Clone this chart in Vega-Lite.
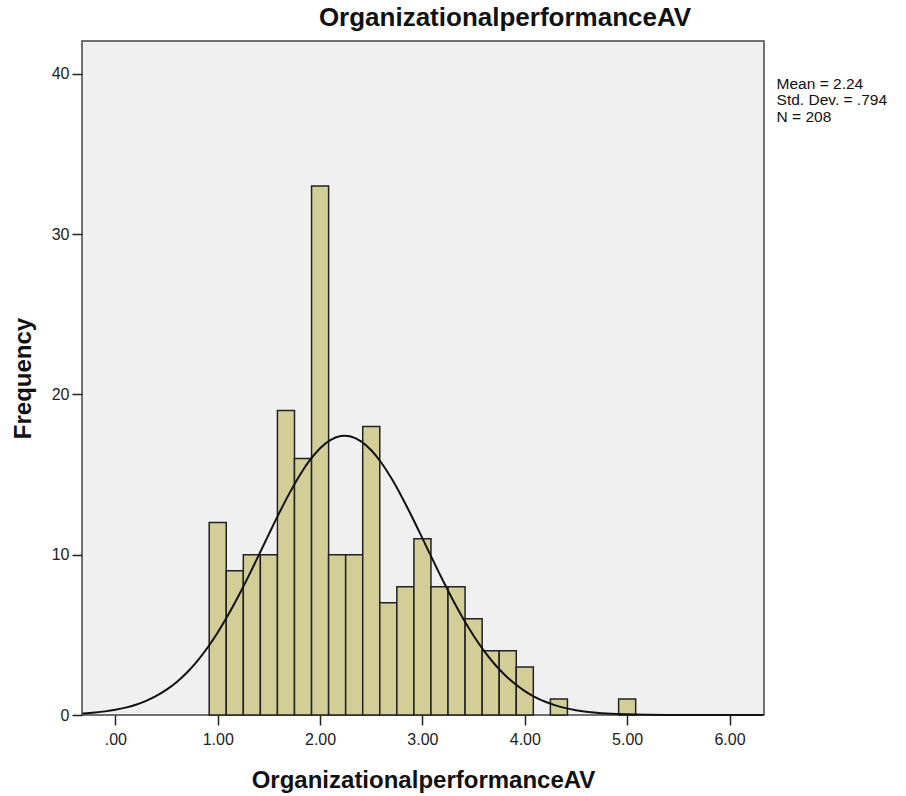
{
  "$schema": "https://vega.github.io/schema/vega-lite/v6.json",
  "width": 682,
  "height": 674,
  "autosize": "none",
  "padding": {"left": 82, "top": 41, "right": 142, "bottom": 81},
  "background": "white",
  "config": {
    "font": "Liberation Sans",
    "view": {"fill": "#F0F0F0", "stroke": "#444444", "strokeWidth": 1.5},
    "axis": {"grid": false, "domain": false, "tickColor": "#222222", "tickWidth": 1.5, "labelColor": "#222222", "labelFont": "Liberation Sans", "labelFontSize": 16, "titleFont": "Liberation Sans", "titleFontWeight": "bold", "titleFontSize": 24, "titleColor": "#111111"}
  },
  "title": {"text": "OrganizationalperformanceAV", "fontSize": 26, "fontWeight": "bold", "font": "Liberation Sans", "color": "#111111", "anchor": "middle", "dx": 82, "offset": 10},
  "datasets": {
    "bins": [
      {"bin_start": 0.9167, "bin_end": 1.0833, "count": 12},
      {"bin_start": 1.0833, "bin_end": 1.25, "count": 9},
      {"bin_start": 1.25, "bin_end": 1.4167, "count": 10},
      {"bin_start": 1.4167, "bin_end": 1.5833, "count": 10},
      {"bin_start": 1.5833, "bin_end": 1.75, "count": 19},
      {"bin_start": 1.75, "bin_end": 1.9167, "count": 16},
      {"bin_start": 1.9167, "bin_end": 2.0833, "count": 33},
      {"bin_start": 2.0833, "bin_end": 2.25, "count": 10},
      {"bin_start": 2.25, "bin_end": 2.4167, "count": 10},
      {"bin_start": 2.4167, "bin_end": 2.5833, "count": 18},
      {"bin_start": 2.5833, "bin_end": 2.75, "count": 7},
      {"bin_start": 2.75, "bin_end": 2.9167, "count": 8},
      {"bin_start": 2.9167, "bin_end": 3.0833, "count": 11},
      {"bin_start": 3.0833, "bin_end": 3.25, "count": 8},
      {"bin_start": 3.25, "bin_end": 3.4167, "count": 8},
      {"bin_start": 3.4167, "bin_end": 3.5833, "count": 6},
      {"bin_start": 3.5833, "bin_end": 3.75, "count": 4},
      {"bin_start": 3.75, "bin_end": 3.9167, "count": 4},
      {"bin_start": 3.9167, "bin_end": 4.0833, "count": 3},
      {"bin_start": 4.25, "bin_end": 4.4167, "count": 1},
      {"bin_start": 4.9167, "bin_end": 5.0833, "count": 1}
    ],
    "curve": [
      {"x": -0.32, "y": 0.096}, {"x": -0.2, "y": 0.155}, {"x": -0.1, "y": 0.226}, {"x": 0.0, "y": 0.326},
      {"x": 0.1, "y": 0.461}, {"x": 0.2, "y": 0.642}, {"x": 0.3, "y": 0.880}, {"x": 0.4, "y": 1.188},
      {"x": 0.5, "y": 1.579}, {"x": 0.6, "y": 2.064}, {"x": 0.7, "y": 2.655}, {"x": 0.8, "y": 3.364},
      {"x": 0.9, "y": 4.193}, {"x": 1.0, "y": 5.145}, {"x": 1.1, "y": 6.215}, {"x": 1.2, "y": 7.387},
      {"x": 1.3, "y": 8.644}, {"x": 1.4, "y": 9.955}, {"x": 1.5, "y": 11.283}, {"x": 1.6, "y": 12.589},
      {"x": 1.7, "y": 13.823}, {"x": 1.8, "y": 14.941}, {"x": 1.9, "y": 15.894}, {"x": 2.0, "y": 16.642},
      {"x": 2.1, "y": 17.151}, {"x": 2.2, "y": 17.398}, {"x": 2.24, "y": 17.42}, {"x": 2.3, "y": 17.370},
      {"x": 2.4, "y": 17.070}, {"x": 2.5, "y": 16.511}, {"x": 2.6, "y": 15.718}, {"x": 2.7, "y": 14.729},
      {"x": 2.8, "y": 13.584}, {"x": 2.9, "y": 12.332}, {"x": 3.0, "y": 11.017}, {"x": 3.1, "y": 9.689},
      {"x": 3.2, "y": 8.387}, {"x": 3.3, "y": 7.146}, {"x": 3.4, "y": 5.992}, {"x": 3.5, "y": 4.946},
      {"x": 3.6, "y": 4.017}, {"x": 3.7, "y": 3.212}, {"x": 3.8, "y": 2.528}, {"x": 3.9, "y": 1.959},
      {"x": 4.0, "y": 1.493}, {"x": 4.1, "y": 1.121}, {"x": 4.2, "y": 0.828}, {"x": 4.3, "y": 0.602},
      {"x": 4.4, "y": 0.430}, {"x": 4.5, "y": 0.303}, {"x": 4.6, "y": 0.210}, {"x": 4.7, "y": 0.143},
      {"x": 4.8, "y": 0.096}, {"x": 4.9, "y": 0.064}, {"x": 5.0, "y": 0.041}, {"x": 5.2, "y": 0.017},
      {"x": 5.5, "y": 0.004}, {"x": 6.0, "y": 0.0002}, {"x": 6.33, "y": 0.0}
    ],
    "stats": [
      {"label": "Mean = 2.24\nStd. Dev. = .794\nN = 208"}
    ]
  },
  "layer": [
    {
      "data": {"name": "bins"},
      "mark": {"type": "rect", "fill": "#D3CE98", "stroke": "#222222", "strokeWidth": 1.5},
      "encoding": {
        "x": {"field": "bin_start", "type": "quantitative",
              "scale": {"domain": [-0.326, 6.337], "nice": false, "zero": false},
              "axis": {"values": [0, 1, 2, 3, 4, 5, 6], "labelExpr": "datum.value == 0 ? '.00' : format(datum.value, '.2f')", "tickSize": 10, "labelPadding": 6, "title": "OrganizationalperformanceAV", "titlePadding": 21}},
        "x2": {"field": "bin_end"},
        "y": {"field": "count", "type": "quantitative",
              "scale": {"domain": [0, 42.04], "nice": false},
              "axis": {"values": [0, 10, 20, 30, 40], "tickSize": 10, "labelPadding": 3, "title": "Frequency", "titlePadding": 16}},
        "y2": {"datum": 0}
      }
    },
    {
      "data": {"name": "curve"},
      "mark": {"type": "line", "color": "#111111", "strokeWidth": 2, "interpolate": "monotone"},
      "encoding": {
        "x": {"field": "x", "type": "quantitative"},
        "y": {"field": "y", "type": "quantitative"}
      }
    },
    {
      "data": {"name": "stats"},
      "mark": {"type": "text", "align": "left", "baseline": "top", "lineBreak": "\n", "fontSize": 15.5, "lineHeight": 16.5, "color": "#111111", "font": "Liberation Sans"},
      "encoding": {
        "x": {"datum": 6.46, "type": "quantitative"},
        "y": {"datum": 39.8, "type": "quantitative"},
        "text": {"field": "label"}
      }
    }
  ]
}
